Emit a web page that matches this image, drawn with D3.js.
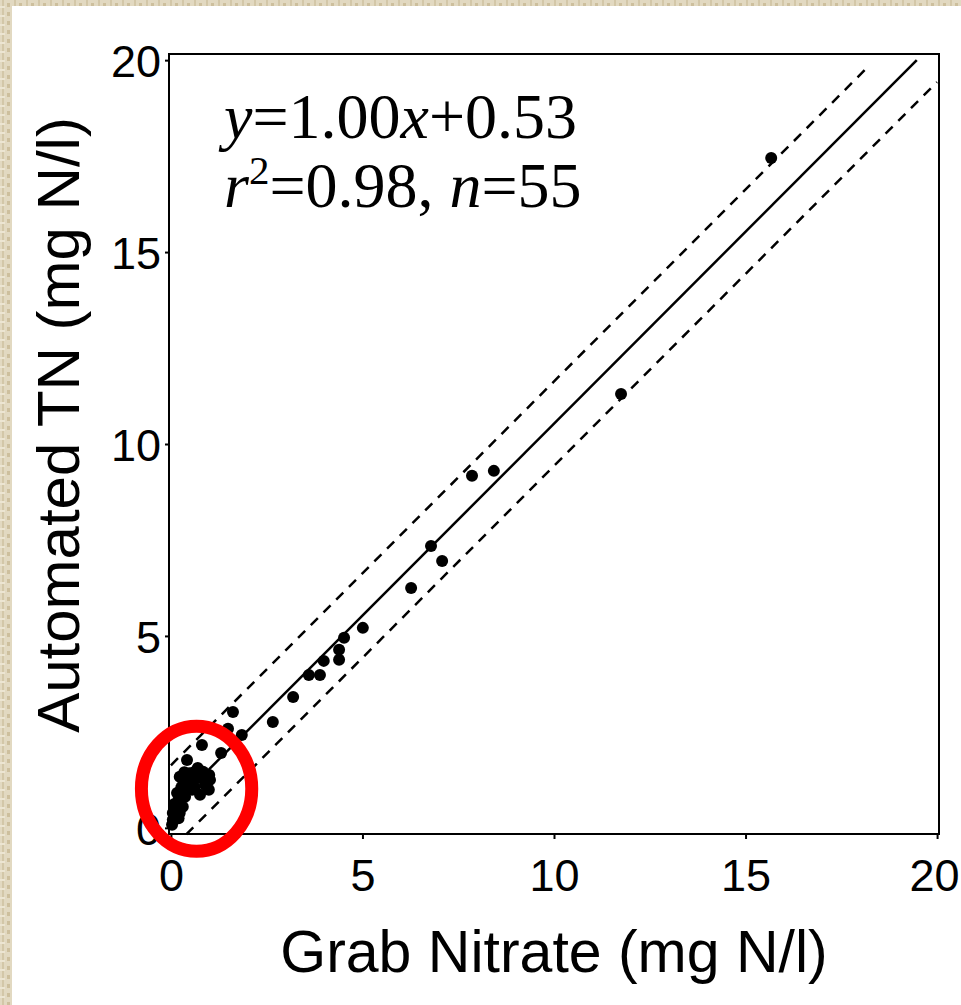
<!DOCTYPE html>
<html>
<head>
<meta charset="utf-8">
<script src="https://cdn.jsdelivr.net/npm/d3@7"></script>
<style>
  body { margin: 0; background: #fff; }
  svg { display: block; }
</style>
</head>
<body>
<svg id="chart" width="961" height="1005"></svg>
<script>
// grab nitrate vs automated TN
const grabNitrate = [
  15.67, 11.75, 7.86, 8.43, 6.79, 7.08, 6.27, 5.01, 4.52, 4.39, 4.39,
  3.99, 3.60, 3.89, 3.19, 2.66, 1.62, 1.85, 1.49, 1.31, 0.81, 0.42,
  0.70, 1.02, 0.99, 0.76, 0.55, 0.31, 0.23, 0.44, 0.57, 0.37, 0.31,
  0.23, 0.05, 0.03, 0.16, 0.89, 0.84, 0.68, 0.18, 0.05,
  0.48, 0.62, 0.95, 0.27, 0.12, 0.40, 0.80, 0.60, 0.35, 0.20, 0.09, 0.52, 1.00
];
const automatedTN = [
  17.45, 11.30, 9.17, 9.30, 7.34, 6.95, 6.25, 5.21, 4.95, 4.64, 4.38,
  4.35, 3.98, 3.98, 3.41, 2.76, 3.02, 2.42, 2.58, 1.95, 2.16, 1.77,
  1.56, 1.25, 0.99, 0.86, 0.99, 1.25, 1.33, 1.33, 1.17, 0.81, 0.55,
  0.39, 0.21, 0.08, 0.91, 1.12, 1.46, 1.33, 0.68, 0.39,
  1.42, 1.05, 1.18, 1.05, 0.52, 1.10, 1.30, 1.45, 1.45, 0.25, 0.62, 1.25, 1.38
];
const tickValues = [0, 5, 10, 15, 20];
const fitSlope = 1.00;
const fitIntercept = 0.53;
const bandHalf = 1.1;            // dashed lines either side of the fit
const highlight = { x: 0.67, y: 1.02, rx: 1.44, ry: 1.63 };  // red ring, data units

const W = 961, H = 1005;
const frame = { left: 169, right: 939, top: 54, bottom: 834 };

const svg = d3.select("#chart");

// parchment border (left and top strips)
const defs = svg.append("defs");
const pat = defs.append("pattern")
  .attr("id", "paper")
  .attr("patternUnits", "userSpaceOnUse")
  .attr("width", 12).attr("height", 9);
pat.append("rect").attr("width", 12).attr("height", 9).attr("fill", "#e2d9c1");
pat.append("rect").attr("x", 2).attr("width", 2).attr("height", 9).attr("fill", "#d3c7a8");
pat.append("rect").attr("x", 7).attr("y", 3).attr("width", 3).attr("height", 4).attr("fill", "#cdbf9d");
pat.append("rect").attr("x", 0).attr("y", 6).attr("width", 5).attr("height", 2).attr("fill", "#ece5d2");

svg.append("rect").attr("width", W).attr("height", H).attr("fill", "#fff");
svg.append("rect").attr("x", 0).attr("y", 0).attr("width", 12).attr("height", H).attr("fill", "url(#paper)");
svg.append("rect").attr("x", 0).attr("y", 0).attr("width", W).attr("height", 6).attr("fill", "url(#paper)");

const x = d3.scaleLinear().domain([-0.05, 20.05]).range([frame.left, frame.right]);
const y = d3.scaleLinear().domain([-0.16, 20.16]).range([frame.bottom, frame.top]);

const tickFont = "'Liberation Sans', Arial, sans-serif";

// axes
const xAxis = svg.append("g")
  .attr("transform", `translate(0,${frame.bottom})`)
  .call(d3.axisBottom(x).tickValues(tickValues).tickSize(5).tickPadding(20).tickFormat(d3.format("d")));
const yAxis = svg.append("g")
  .attr("transform", `translate(${frame.left},0)`)
  .call(d3.axisLeft(y).tickValues(tickValues).tickSize(4).tickPadding(4).tickFormat(d3.format("d")));

[xAxis, yAxis].forEach(g => {
  g.select(".domain").remove();
  g.selectAll(".tick line").attr("stroke", "#000").attr("stroke-width", 2);
  g.selectAll(".tick text")
    .attr("fill", "#000")
    .style("font-family", tickFont)
    .style("font-size", "45px");
});
yAxis.selectAll(".tick text").attr("dy", "0.36em");
// last x label sits against the page edge; keep it inside
xAxis.selectAll(".tick text").filter(d => d === 20).attr("dx", -3);

// frame box
svg.append("rect")
  .attr("x", frame.left).attr("y", frame.top)
  .attr("width", frame.right - frame.left)
  .attr("height", frame.bottom - frame.top)
  .attr("fill", "none").attr("stroke", "#000").attr("stroke-width", 2);

// fit line and band
const line = d3.line().x(d => x(d[0])).y(d => y(d[1]));
const fit = v => fitSlope * v + fitIntercept;

svg.append("path")
  .datum([[0, fit(0)], [(20 - fitIntercept) / fitSlope, 20]])
  .attr("d", line)
  .attr("fill", "none").attr("stroke", "#000").attr("stroke-width", 2.5);

svg.append("path")
  .datum([[0, fit(0) + bandHalf], [18.2, fit(18.2) + bandHalf]])
  .attr("d", line)
  .attr("fill", "none").attr("stroke", "#000").attr("stroke-width", 2.5)
  .attr("stroke-dasharray", "10,8");

svg.append("path")
  .datum([[0.4, fit(0.4) - bandHalf], [20, fit(20) - bandHalf]])
  .attr("d", line)
  .attr("fill", "none").attr("stroke", "#000").attr("stroke-width", 2.5)
  .attr("stroke-dasharray", "10,8");

// points
svg.append("g").selectAll("circle")
  .data(d3.zip(grabNitrate, automatedTN))
  .join("circle")
  .attr("cx", d => x(d[0]))
  .attr("cy", d => y(d[1]))
  .attr("r", 6)
  .attr("fill", "#000");

// red ring round the low end
svg.append("ellipse")
  .attr("cx", x(highlight.x)).attr("cy", y(highlight.y))
  .attr("rx", x(highlight.rx) - x(0)).attr("ry", y(0) - y(highlight.ry))
  .attr("fill", "none").attr("stroke", "#f00").attr("stroke-width", 13);

// axis titles
svg.append("text")
  .attr("x", 554)
  .attr("y", 972)
  .attr("text-anchor", "middle")
  .style("font-family", tickFont).style("font-size", "59px")
  .text("Grab Nitrate (mg N/l)");

svg.append("text")
  .attr("transform", "translate(79,425) rotate(-90)")
  .attr("text-anchor", "middle")
  .style("font-family", tickFont).style("font-size", "60px")
  .text("Automated TN (mg N/l)");

// equation
const serif = "'Liberation Serif', 'Times New Roman', serif";
const eq = svg.append("text")
  .attr("x", 224).attr("y", 138)
  .style("font-family", serif)
  .style("font-size", "64px")
  .attr("fill", "#000");
eq.append("tspan").style("font-style", "italic").text("y");
eq.append("tspan").text("=1.00");
eq.append("tspan").style("font-style", "italic").text("x");
eq.append("tspan").text("+0.53");

const eq2 = svg.append("text")
  .attr("x", 224).attr("y", 207)
  .style("font-family", serif)
  .style("font-size", "64px")
  .attr("fill", "#000");
eq2.append("tspan").style("font-style", "italic").text("r");
eq2.append("tspan").attr("dy", -23).style("font-size", "41px").text("2");
eq2.append("tspan").attr("dy", 23).text("=0.98, ");
eq2.append("tspan").style("font-style", "italic").text("n");
eq2.append("tspan").text("=55");
</script>
</body>
</html>
